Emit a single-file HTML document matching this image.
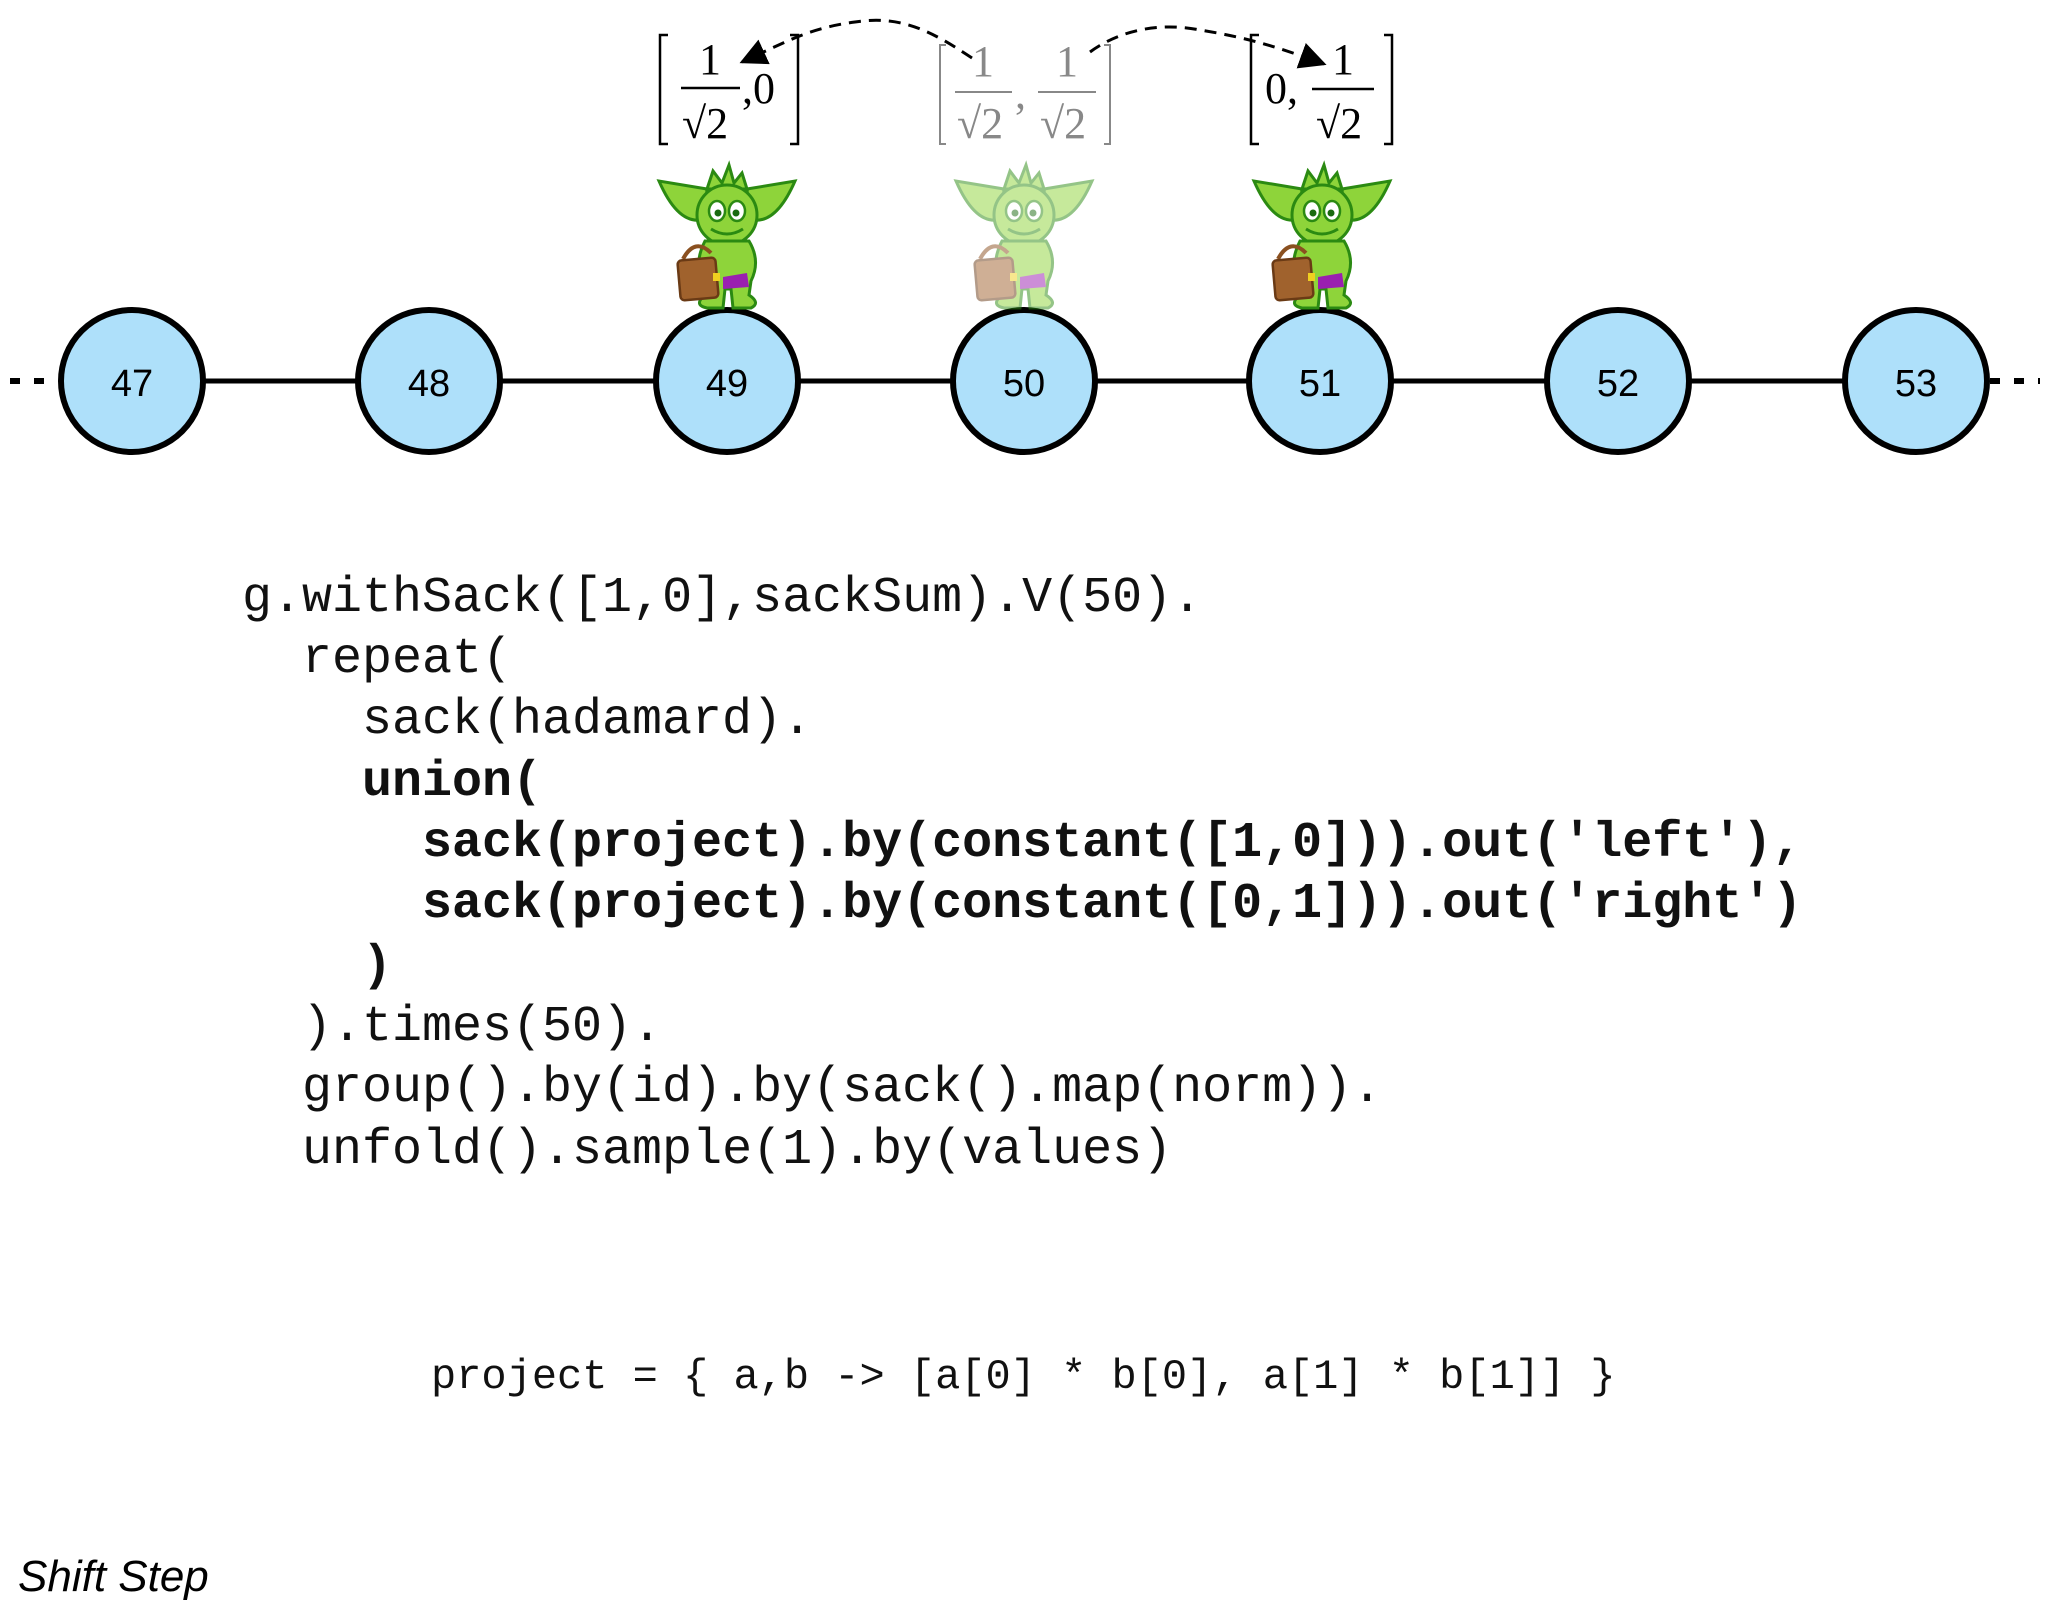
<!DOCTYPE html>
<html><head><meta charset="utf-8"><style>
html,body{margin:0;padding:0;background:#fff;}
svg{display:block}
.code{font-family:"Liberation Mono",monospace;font-size:50px;fill:#111}
.b{font-weight:bold}
.m{font-family:"Liberation Serif",serif;font-size:44px}
</style></head><body>
<svg width="2048" height="1609" viewBox="0 0 2048 1609" xmlns="http://www.w3.org/2000/svg">
<defs>
<g id="gob">
  <path d="M-20,22 L-68,14 Q-48,60 -22,52 Z" fill="#8ed43a" stroke="#2b8a12" stroke-width="3"/>
  <path d="M20,22 L68,14 Q48,60 22,52 Z" fill="#8ed43a" stroke="#2b8a12" stroke-width="3"/>
  <path d="M-20,22 L-14,4 L-5,16 L2,-2 L7,16 L15,6 L20,22 Z" fill="#8ed43a" stroke="#2b8a12" stroke-width="3"/>
  <ellipse cx="0" cy="48" rx="30" ry="30" fill="#8ed43a" stroke="#2b8a12" stroke-width="3"/>
  <ellipse cx="-10" cy="44" rx="8" ry="10" fill="#fff" stroke="#2b8a12" stroke-width="2.5"/>
  <ellipse cx="10" cy="44" rx="8" ry="10" fill="#fff" stroke="#2b8a12" stroke-width="2.5"/>
  <circle cx="-9" cy="46" r="3.5" fill="#1a6a10"/><circle cx="9" cy="46" r="3.5" fill="#1a6a10"/>
  <path d="M-16,62 Q0,72 16,62" fill="none" stroke="#2b8a12" stroke-width="3"/>
  <path d="M-22,74 Q-34,98 -24,116 L-22,128 Q-34,138 -20,141 L-4,141 L-2,122 L4,122 L6,141 L24,141 Q34,136 22,128 L24,114 Q34,94 22,74 Z" fill="#8ed43a" stroke="#2b8a12" stroke-width="3"/>
  <path d="M-4,110 L20,106 L22,120 L-4,122 Z" fill="#9a1fb0"/>
  <path d="M-44,92 Q-32,70 -16,86" fill="none" stroke="#8a5020" stroke-width="4"/>
  <rect x="-48" y="92" width="38" height="40" rx="4" fill="#a0622d" stroke="#6a3a15" stroke-width="2.5" transform="rotate(-5 -29 112)"/>
  <rect x="-14" y="106" width="7" height="8" fill="#f0d020"/>
</g>
<marker id="ah" viewBox="0 0 10 10" refX="9" refY="5" markerWidth="9" markerHeight="9" orient="auto"><path d="M0,0 L10,5 L0,10 Z" fill="#000"/></marker>
</defs>

<line x1="10" y1="381" x2="48" y2="381" stroke="#000" stroke-width="6" stroke-dasharray="10,14"/>
<line x1="1990" y1="381" x2="2040" y2="381" stroke="#000" stroke-width="6" stroke-dasharray="10,14"/>
<line x1="132" y1="381" x2="1915" y2="381" stroke="#000" stroke-width="5"/>
<g fill="#aee0fa" stroke="#000" stroke-width="6">
<circle cx="132" cy="381" r="71"/><circle cx="429" cy="381" r="71"/><circle cx="727" cy="381" r="71"/>
<circle cx="1024" cy="381" r="71"/><circle cx="1320" cy="381" r="71"/><circle cx="1618" cy="381" r="71"/><circle cx="1916" cy="381" r="71"/>
</g>
<g font-family="Liberation Sans, sans-serif" font-size="38" text-anchor="middle">
<text x="132" y="396">47</text><text x="429" y="396">48</text><text x="727" y="396">49</text>
<text x="1024" y="396">50</text><text x="1320" y="396">51</text><text x="1618" y="396">52</text><text x="1916" y="396">53</text>
</g>

<use href="#gob" x="727" y="167"/>
<use href="#gob" x="1024" y="167" opacity="0.5"/>
<use href="#gob" x="1322" y="167"/>

<g stroke="#000" stroke-width="2.5" fill="none">
<path d="M668,35 L660,35 L660,144 L668,144"/><path d="M790,35 L798,35 L798,144 L790,144"/>
<path d="M1259,35 L1251,35 L1251,144 L1259,144"/><path d="M1384,35 L1392,35 L1392,144 L1384,144"/>
<line x1="681" y1="88" x2="740" y2="88"/><line x1="1312" y1="89" x2="1374" y2="89"/>
</g>
<g class="m">
<text x="710" y="74" text-anchor="middle">1</text><text x="682" y="138">√2</text><text x="742" y="103">,0</text>
<text x="1265" y="103">0,</text><text x="1343" y="74" text-anchor="middle">1</text><text x="1316" y="138">√2</text>
</g>
<g stroke="#888" stroke-width="2" fill="none">
<path d="M946,45 L940,45 L940,144 L946,144"/><path d="M1104,45 L1110,45 L1110,144 L1104,144"/>
<line x1="955" y1="92" x2="1012" y2="92"/><line x1="1038" y1="92" x2="1096" y2="92"/>
</g>
<g class="m" fill="#888" font-size="38">
<text x="983" y="76" text-anchor="middle">1</text><text x="957" y="138">√2</text><text x="1015" y="108">,</text>
<text x="1067" y="76" text-anchor="middle">1</text><text x="1040" y="138">√2</text>
</g>

<path d="M972,58 C930,30 900,15 855,22 C810,28 790,40 742,62" fill="none" stroke="#000" stroke-width="3" stroke-dasharray="12,8" marker-end="url(#ah)"/>
<path d="M1090,52 C1120,30 1160,22 1200,30 C1250,38 1280,48 1324,64" fill="none" stroke="#000" stroke-width="3" stroke-dasharray="12,8" marker-end="url(#ah)"/>

<g class="code">
<text x="242" y="611">g.withSack([1,0],sackSum).V(50).</text>
<text x="302" y="672">repeat(</text>
<text x="362" y="733">sack(hadamard).</text>
<text x="362" y="795" class="b">union(</text>
<text x="422" y="856" class="b">sack(project).by(constant([1,0])).out('left'),</text>
<text x="422" y="917" class="b">sack(project).by(constant([0,1])).out('right')</text>
<text x="362" y="979" class="b">)</text>
<text x="302" y="1040">).times(50).</text>
<text x="302" y="1101">group().by(id).by(sack().map(norm)).</text>
<text x="302" y="1163">unfold().sample(1).by(values)</text>
<text x="431" y="1388" font-size="42">project = { a,b -&gt; [a[0] * b[0], a[1] * b[1]] }</text>
</g>

<text x="18" y="1591" font-family="Liberation Sans, sans-serif" font-style="italic" font-size="44">Shift Step</text>
</svg>
</body></html>
